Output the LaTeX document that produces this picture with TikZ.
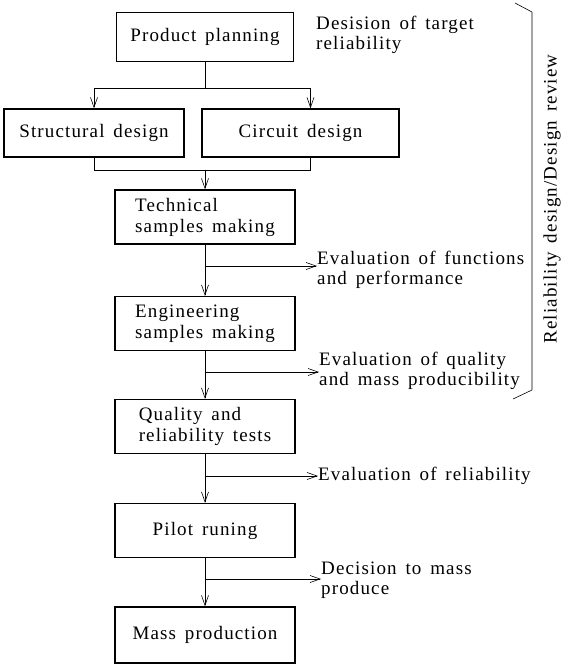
\documentclass[tikz,border=0pt]{standalone}
\usepackage{fontspec}
\setmainfont{Liberation Serif}[LetterSpace=6,WordSpace=1.5]
\usetikzlibrary{positioning, arrows.meta}
\tikzset{>={Straight Barb[length=10pt,width=7pt]}}
\tikzset{
    stage/.style = {rectangle, draw, line width=1.4pt, minimum width=180pt,
                        minimum height = 54pt, inner sep=0pt, align=left,
                        font=\fontsize{19}{21}\selectfont},
    remark/.style = {anchor=west, inner sep=0pt, align=left,
                        font=\fontsize{19}{20}\selectfont},
    link/.style = {line width=0.6pt}
}

\begin{document}
\begin{tikzpicture}[x=1pt,y=-1pt]
		\useasboundingbox (0,0) rectangle (568,665);
		% boxes
		\node (plan) [stage, minimum width=177pt, minimum height=49pt] at (205,37) {Product planning};
		\node (struct) [stage, minimum width=180pt, minimum height=48pt] at (94,133) {Structural design};
		\node (circuit) [stage, minimum width=197pt, minimum height=48pt] at (300.5,133) {Circuit design};
		\node (tech) [stage] at (205,217) {Technical\\samples making};
		\node (eng) [stage] at (205,323.5) {Engineering\\samples making};
		\node (qual) [stage] at (205,426.5) {Quality and\\reliability tests};
		\node (pilot) [stage] at (205,530.5) {Pilot runing};
		\node (mass) [stage, minimum height=56pt] at (205,635) {Mass production};
		% remarks
		\node (target) [remark] at (316,35) {Desision of target\\reliability};
		\node (func) [remark] at (317,270) {Evaluation of functions\\and performance};
		\node (quality) [remark] at (319,371) {Evaluation of quality\\and mass producibility};
		\node (rel) [remark] at (318,476) {Evaluation of reliability};
		\node (decide) [remark] at (321,580) {Decision to mass\\produce};
		\node (review) [font=\fontsize{19}{20}\selectfont, rotate=90] at (552,199) {Reliability design/Design review};
		% branch points
		\coordinate (split) at (205,88);
		\coordinate (merge) at (205,170);
		\coordinate (b1) at (205,266);
		\coordinate (b2) at (205,372);
		\coordinate (b3) at (205,476);
		\coordinate (b4) at (205,579);
		% connectors
		\draw [link] (plan) -- (split);
		\draw [link, ->] (split) -| (struct);
		\draw [link, ->] (split) -| ([xshift=10pt]circuit.north);
		\draw [link] (struct) |- (merge);
		\draw [link] ([xshift=10pt]circuit.south) |- (merge);
		\draw [link, ->] (merge) -- (tech);
		\draw [link, ->] (tech) -- (eng);
		\draw [link, ->] (eng) -- (qual);
		\draw [link, ->] (qual) -- (pilot);
		\draw [link, ->] (pilot) -- (mass);
		\draw [link, ->] (b1) -- (b1 -| func.west);
		\draw [link, ->] (b2) -- (b2 -| quality.west);
		\draw [link, ->] (b3) -- (b3 -| rel.west);
		\draw [link, ->] (b4) -- (b4 -| decide.west);
		% bracket
		\draw [link] (515,3) -- (532,12) -- (532,390) -- (513,399);
	\end{tikzpicture}
\end{document}
